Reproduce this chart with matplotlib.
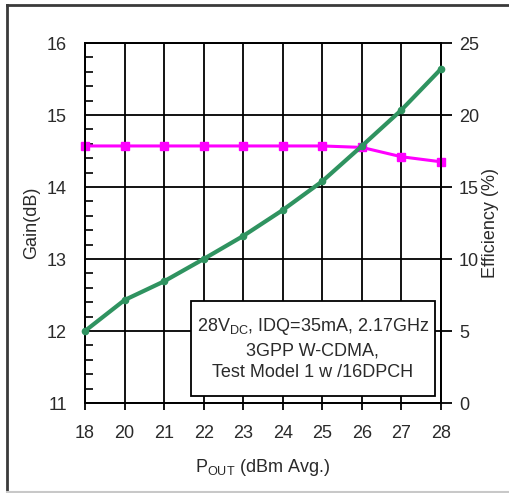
import numpy as np
import matplotlib
matplotlib.use("Agg")
from matplotlib import pyplot as plt
from matplotlib.lines import Line2D
from matplotlib.patches import Rectangle

plt.rcParams['font.family'] = ['Liberation Sans', 'DejaVu Sans']
plt.rcParams['mathtext.default'] = 'regular'

#data
pout_labels = ["18", "20", "21", "22", "23", "24", "25", "26", "27", "28"]
gain_db = [14.57, 14.57, 14.57, 14.57, 14.57, 14.57, 14.57, 14.55, 14.42, 14.35]
efficiency = [5.0, 7.15, 8.45, 10.0, 11.6, 13.4, 15.4, 17.85, 20.35, 23.2]

gain_ticks = [11, 12, 13, 14, 15, 16]
eff_ticks = [0, 5, 10, 15, 20, 25]

text_color = "#2a2a2a"
magenta = "#ff00ff"
green = "#2f9360"

fig = plt.figure(figsize=(5.09, 4.93), dpi=100)
ax = fig.add_axes([85/509, 1-403/493, 356/509, 360/493])

x = np.arange(len(pout_labels))

#gain on left axis
ax.plot(x, gain_db, color=magenta, linewidth=2.2, marker="s", markersize=6,
        zorder=4, clip_on=False)
ax.set_xlim(0, len(pout_labels)-1)
ax.set_ylim(11, 16)
ax.set_xticks(x)
ax.set_xticklabels(pout_labels)
ax.set_yticks(gain_ticks)
ax.set_yticks(np.arange(11, 16.01, 0.2), minor=True)
ax.grid(True, which="major", color="black", linewidth=1.3)
ax.tick_params(axis="y", which="major", length=0, pad=13, labelsize=13, labelcolor=text_color)
ax.tick_params(axis="y", which="minor", direction="in", length=6, width=1.2, color="black")
ax.tick_params(axis="x", which="major", direction="out", length=5, width=1.3, pad=11,
               labelsize=13, labelcolor=text_color)
ax.set_ylabel("Gain(dB)", fontsize=13, color=text_color, labelpad=5)
ax.set_xlabel("P$_{OUT}$ (dBm Avg.)", fontsize=13, color=text_color, labelpad=11)
for s in ax.spines.values():
    s.set_linewidth(1.3)

#efficiency on right axis
ax2 = ax.twinx()
ax2.plot(x, efficiency, color=green, linewidth=3, marker="o", markersize=4.5,
         zorder=5, clip_on=False)
ax2.set_ylim(0, 25)
ax2.set_yticks(eff_ticks)
ax2.tick_params(axis="y", direction="out", length=8, width=1.3, pad=5, labelsize=13,
                labelcolor=text_color)
ax2.set_ylabel("Efficiency (%)", fontsize=13, color=text_color, labelpad=2)
for s in ax2.spines.values():
    s.set_linewidth(1.3)

#test conditions box
ax2.add_patch(Rectangle((0.298, 0.019), 0.685, 0.264, transform=ax.transAxes,
                        facecolor="white", edgecolor="black", linewidth=1.3, zorder=9))
ax2.text(0.640, 0.151, "28V$_{DC}$, IDQ=35mA, 2.17GHz\n3GPP W-CDMA,\nTest Model 1 w /16DPCH",
         transform=ax.transAxes, ha="center", va="center", fontsize=13, color=text_color,
         linespacing=1.4, zorder=10)

#outer frame of the picture
fig.add_artist(Line2D([7/509, 7/509], [0, 1-5/493], transform=fig.transFigure, color="#3a3a3a", linewidth=2))
fig.add_artist(Line2D([7/509, 1], [1-5/493, 1-5/493], transform=fig.transFigure, color="#3a3a3a", linewidth=2))
fig.add_artist(Line2D([7/509, 1], [1/493, 1/493], transform=fig.transFigure, color="#c8c8c8", linewidth=1.5))

fig.savefig("out.png", dpi=100)
